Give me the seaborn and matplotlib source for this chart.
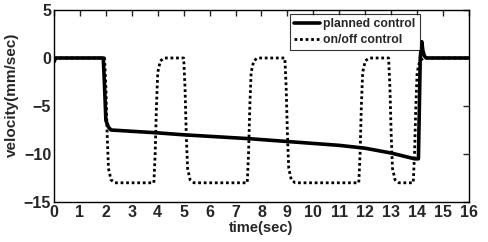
import numpy as np
import pandas as pd
import matplotlib
matplotlib.use("Agg")
import matplotlib.pyplot as plt
import seaborn as sns

# planned control velocity (breakpoints)
planned_t = [0.0, 0.03, 0.08, 0.2, 1.9, 1.95, 2.0, 2.1, 2.2, 4.0, 5.0, 7.5, 9.0, 11.0,
             12.0, 13.0, 13.9, 14.05, 14.12, 14.18, 14.22, 14.28, 14.35, 16.0]
planned_v = [-0.4, -0.2, 0.0, 0.0, 0.0, -3.0, -6.5, -7.2, -7.5, -7.8, -8.0, -8.4, -8.7, -9.1,
             -9.4, -9.9, -10.5, -10.5, 0.0, 1.7, 0.8, 0.2, 0.0, 0.0]

# on/off control velocity
onoff_t = [0.0, 1.95, 2.0, 2.05, 2.1, 2.2, 2.35,
           3.85, 3.9, 3.95, 4.0, 4.1, 4.25,
           5.0, 5.05, 5.1, 5.15, 5.25, 5.4,
           7.45, 7.5, 7.55, 7.6, 7.7, 7.85,
           8.9, 8.95, 9.0, 9.05, 9.15, 9.3,
           11.75, 11.8, 11.85, 11.9, 12.0, 12.15,
           12.9, 12.95, 13.0, 13.05, 13.15, 13.3,
           13.85, 13.9, 13.95, 14.0, 14.1, 14.25, 16.0]
onoff_v = [0.0, 0.0, -3.0, -8.0, -11.5, -12.7, -13.0,
           -13.0, -10.0, -5.0, -1.5, -0.3, 0.0,
           0.0, -3.0, -8.0, -11.5, -12.7, -13.0,
           -13.0, -10.0, -5.0, -1.5, -0.3, 0.0,
           0.0, -3.0, -8.0, -11.5, -12.7, -13.0,
           -13.0, -10.0, -5.0, -1.5, -0.3, 0.0,
           0.0, -3.0, -8.0, -11.5, -12.7, -13.0,
           -13.0, -10.0, -5.0, -1.5, -0.3, 0.0, 0.0]

sns.set_style("white")
plt.rcParams['font.family'] = ['Liberation Sans', 'DejaVu Sans']
plt.rcParams['font.weight'] = 'bold'

df_p = pd.DataFrame({'t': planned_t, 'v': planned_v})
df_o = pd.DataFrame({'t': onoff_t, 'v': onoff_v})

fig = plt.figure(figsize=(4.89, 2.42), dpi=100)
ax = fig.add_axes([54 / 489, 40 / 242, 415 / 489, 192 / 242])

sns.lineplot(data=df_p, x='t', y='v', ax=ax, color='black', lw=2.6,
             estimator=None, sort=False, label='planned control')
sns.lineplot(data=df_o, x='t', y='v', ax=ax, color='black', lw=2.0,
             linestyle=(0, (1, 1)), estimator=None, sort=False, label='on/off control')

ax.set_xlim(0, 16)
ax.set_ylim(-15, 5)
ax.set_xticks(range(0, 17))
ax.set_yticks([-15, -10, -5, 0, 5])
ax.tick_params(direction='in', top=True, right=True, length=4, width=1,
               labelsize=11.5, pad=2)
for lab in ax.get_xticklabels() + ax.get_yticklabels():
    lab.set_fontweight('bold')
ax.set_xlabel('time(sec)', fontsize=10.5, fontweight='bold', labelpad=1)
ax.set_ylabel('velocity(mm/sec)', fontsize=11, fontweight='bold')
ax.yaxis.set_label_coords(-0.085, 0.56)
for s in ax.spines.values():
    s.set_linewidth(1.0)
    s.set_color('black')

leg = ax.legend(loc='upper left', bbox_to_anchor=(0.568, 0.98), fontsize=8.8,
                frameon=True, fancybox=False, borderpad=0.35, handlelength=2.1,
                handletextpad=0.3, labelspacing=0.3, borderaxespad=0.0)
leg.get_frame().set_edgecolor('black')
leg.get_frame().set_linewidth(0.8)
for t in leg.get_texts():
    t.set_fontweight('bold')

fig.savefig('out.png', dpi=100)
